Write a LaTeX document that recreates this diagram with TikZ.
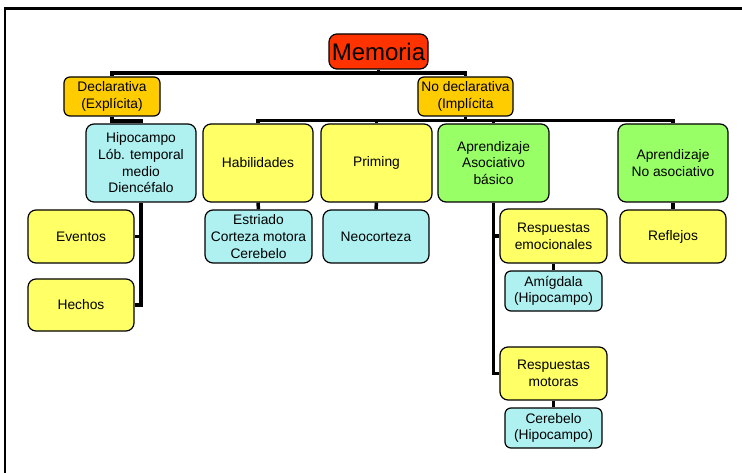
\documentclass[tikz,border=0pt]{standalone}
\usepackage{fontspec}
\setmainfont{Liberation Sans}
\usetikzlibrary{backgrounds}
\definecolor{cred}{HTML}{FF3300}
\definecolor{corange}{HTML}{FFCC00}
\definecolor{cyellow}{HTML}{FFFF66}
\definecolor{ccyan}{HTML}{AFF0F0}
\definecolor{cgreen}{HTML}{99FF66}
\begin{document}
\begin{tikzpicture}[x=1pt,y=-1pt,
  box/.style={draw=black, line width=1.2pt, rounded corners=8pt, align=center,
    inner sep=0pt, font=\fontsize{13.8}{16.7}\selectfont, text=black},
  sz/.style n args={2}{minimum width=#1pt, minimum height=#2pt},
  link/.style={line width=3.5pt, draw=black}]
\useasboundingbox (0,0) rectangle (742,473);

% nodes
\node[box, fill=cred, sz={99}{35}, font=\fontsize{24}{28}\selectfont] (mem) at (378.5,51.5) {Memoria};
\node[box, fill=corange, sz={96}{39}, rounded corners=6pt] (decl) at (112,96.5) {Declarativa\\(Explícita)};
\node[box, fill=corange, sz={95}{39}, rounded corners=6pt] (nd) at (465.5,96.5) {No declarativa\\(Implícita};

\node[box, fill=ccyan, sz={110}{78}] (hip) at (141,163) {Hipocampo\\Lób. temporal\\medio\\Diencéfalo};
\node[box, fill=cyellow, sz={110}{78}] (hab) at (258,163) {Habilidades};
\node[box, fill=cyellow, sz={111}{78}] (pri) at (376.5,163) {Priming};
\node[box, fill=cgreen, sz={111}{78}] (aso) at (493.5,163) {Aprendizaje\\Asociativo\\básico};
\node[box, fill=cgreen, sz={110}{78}] (nas) at (673,163) {Aprendizaje\\No asociativo};

\node[box, fill=cyellow, sz={106}{53}] (eve) at (81,236.5) {Eventos};
\node[box, fill=cyellow, sz={106}{52}] (hec) at (81,305) {Hechos};
\node[box, fill=ccyan, sz={107}{53}] (est) at (258.5,236.5) {Estriado\\Corteza motora\\Cerebelo};
\node[box, fill=ccyan, sz={106}{53}] (neo) at (376,236.5) {Neocorteza};
\node[box, fill=cyellow, sz={107}{54}] (rem) at (553.5,236) {Respuestas\\emocionales};
\node[box, fill=cyellow, sz={106}{53}] (ref) at (673,236.5) {Reflejos};
\node[box, fill=ccyan, sz={97}{40}, rounded corners=6pt] (ami) at (553.5,291) {Amígdala\\(Hipocampo)};
\node[box, fill=cyellow, sz={107}{53}] (rmo) at (553.5,373.5) {Respuestas\\motoras};
\node[box, fill=ccyan, sz={97}{40}, rounded corners=6pt] (cer) at (553.5,428) {Cerebelo\\(Hipocampo)};

% bus coordinates
\coordinate (b1) at (0,73);
\coordinate (b2) at (0,121);
\coordinate (b3) at (0,120.5);

% frame
\coordinate (f1) at (742,8.5);
\coordinate (f0) at (5,8.5);
\coordinate (f2) at (5,473);

\begin{pgfonlayer}{background}
\fill[white] (0,0) rectangle (742,473);
\draw[line width=2.5pt] (f1) -- (f0) -- (f2);
\draw[link] (mem.south) -- (mem.south |- b1) -| (decl.north);
\draw[link] (mem.south) -- (mem.south |- b1) -| (nd.north);
\draw[link] (decl.south) -- (decl.south |- b2) -| (hip.north);
\draw[link] (nd.south) -- (nd.south |- b3) -| (hab.north);
\draw[link] (nd.south) -- (nd.south |- b3) -| (pri.north);
\draw[link] (nd.south) -- (nd.south |- b3) -| (aso.north);
\draw[link] (nd.south) -- (nd.south |- b3) -| (nas.north);
\draw[link] (hip.south) |- (eve.east);
\draw[link] (hip.south) |- (hec.east);
\draw[link] (hab.south) -- (est.north);
\draw[link] (pri.south) -- (neo.north);
\draw[link] (aso.south) |- (rem.west);
\draw[link] (aso.south) |- (rmo.west);
\draw[link] (rem.south) -- (ami.north);
\draw[link] (rmo.south) -- (cer.north);
\draw[link] (nas.south) -- (ref.north);
\end{pgfonlayer}
\end{tikzpicture}
\end{document}
